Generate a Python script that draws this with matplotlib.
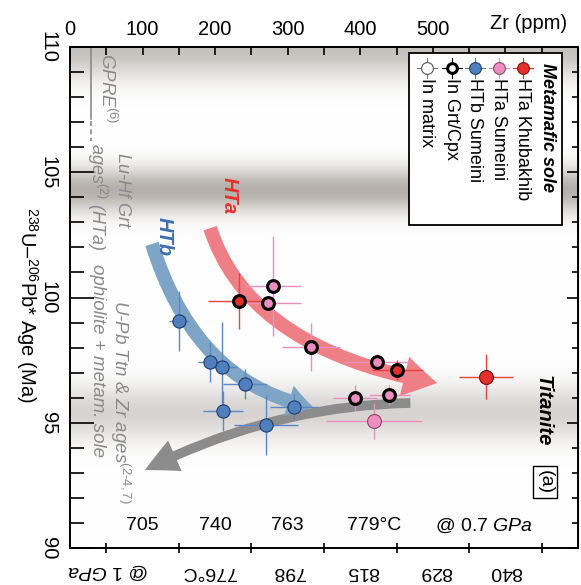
import numpy as np
import matplotlib.pyplot as plt
from matplotlib.patches import FancyArrowPatch, Rectangle
from matplotlib.path import Path

plt.rcParams['font.family'] = ['Liberation Sans', 'DejaVu Sans']
plt.rcParams['mathtext.fontset'] = 'custom'
plt.rcParams['mathtext.rm'] = 'Liberation Sans'
plt.rcParams['mathtext.it'] = 'Liberation Sans:italic'
plt.rcParams['mathtext.bf'] = 'Liberation Sans:bold'

# --- data (Zr ppm, age Ma, errors) ---
# HTa Khubakhib (red)
red_zr = [233, 451, 573]
red_age = [99.86, 97.11, 96.83]
red_zr_err = [43, 35, 37]
red_age_err = [1.1, 0.4, 0.9]
red_in_grt = [True, True, False]

# HTa Sumeini (pink)
pink_zr = [280, 273, 332, 423, 393, 440, 419]
pink_age = [100.46, 99.78, 98.02, 97.43, 95.99, 96.11, 95.07]
pink_zr_err = [39, 45, 40, 45, 30, 28, 66]
pink_age_err = [2.0, 0.3, 0.95, 0.3, 0.5, 0.4, 0.7]
pink_in_grt = [True, True, True, True, True, True, False]

# HTb Sumeini (blue)
blue_zr = [150, 193, 210, 241, 211, 270, 309]
blue_age = [99.06, 97.43, 97.23, 96.55, 95.47, 94.91, 95.63]
blue_zr_err = [14, 17, 20, 30, 28, 44, 33]
blue_age_err = [1.2, 0.8, 1.8, 0.6, 0.8, 1.2, 0.5]

# trends (start, control, end) in (Zr, age)
hta_trend = [(193, 102.77), (248, 97.90), (506, 96.59)]
htb_trend = [(113, 102.14), (173, 96.53), (335, 95.63)]
ttn_trend = [(469, 95.79), (279, 95.69), (103, 93.11)]

# gray age bands: centre age, width, strength
band_age = [110.0, 104.3, 95.4]
band_width = [1.2, 0.9, 1.1]
band_strength = [0.8, 1.0, 0.55]

zr_ticks = [0, 100, 200, 300, 400, 500]
temp_07 = ['705', '740', '763', '779°C']
temp_07_zr = [100, 200, 300, 419]
temp_1 = ['@ $\\mathit{1\\ GPa}$', '776°C', '798', '815', '829', '840']
temp_1_zr = [52, 191, 302, 403, 504, 601]

c_red = '#e3302a'
c_pink = '#ec8cbf'
c_blue = '#4f7fbd'

fig = plt.figure(figsize=(5.81, 5.85), dpi=100)
ax = fig.add_axes([0.1205, 0.0632, 0.8743, 0.8564])

# background bands
ages = np.linspace(90, 110, 600)
d = np.zeros_like(ages)
for a0, w, s in zip(band_age, band_width, band_strength):
    d = np.maximum(d, s * np.exp(-((ages - a0) / w) ** 2))
base = np.array([0.71, 0.69, 0.67])
img = 1 - d[:, None] * (1 - base[None, :])
img = np.repeat(img[:, None, :], 2, axis=1)
ax.imshow(img, extent=[0, 700, 90, 110], origin='lower', aspect='auto', zorder=0)

ax.set_xlim(0, 700)
ax.set_ylim(90, 110)

# trend arrows
def trend_arrow(pts, color, style, z):
    p = Path(pts, [Path.MOVETO, Path.CURVE3, Path.CURVE3])
    a = FancyArrowPatch(path=p, arrowstyle=style, mutation_scale=1,
                        color=color, lw=0, zorder=z)
    ax.add_patch(a)

trend_arrow(ttn_trend, '#8c8c8c', 'simple,head_length=24,head_width=24,tail_width=7', 2)
trend_arrow(htb_trend, '#7fa5c6', 'simple,head_length=18,head_width=23,tail_width=10', 2.1)
trend_arrow(hta_trend, '#ef7f86', 'simple,head_length=24,head_width=29,tail_width=10', 2.2)

# error bars and points
ax.errorbar(blue_zr, blue_age, xerr=blue_zr_err, yerr=blue_age_err, fmt='none',
            ecolor='#5b87c6', elinewidth=1, zorder=3)
ax.errorbar(pink_zr, pink_age, xerr=pink_zr_err, yerr=pink_age_err, fmt='none',
            ecolor='#e98fbd', elinewidth=1, zorder=3)
ax.errorbar(red_zr, red_age, xerr=red_zr_err, yerr=red_age_err, fmt='none',
            ecolor='#e5453a', elinewidth=1, zorder=3)

ax.plot(blue_zr, blue_age, 'o', ms=9.5, mfc=c_blue, mec='#1f3c6e', mew=0.8, zorder=4)
for x, y, g in zip(pink_zr, pink_age, pink_in_grt):
    if g:
        ax.plot(x, y, 'o', ms=8.5, mfc=c_pink, mec='black', mew=2.2, zorder=4)
    else:
        ax.plot(x, y, 'o', ms=10, mfc=c_pink, mec='#8a4a6a', mew=0.8, zorder=4)
for x, y, g in zip(red_zr, red_age, red_in_grt):
    if g:
        ax.plot(x, y, 'o', ms=8.5, mfc=c_red, mec='black', mew=2.2, zorder=4)
    else:
        ax.plot(x, y, 'o', ms=10, mfc=c_red, mec='#6a1010', mew=0.8, zorder=4)

# axes / ticks
for s in ax.spines.values():
    s.set_linewidth(1.4)
ax.set_xticks(np.arange(50, 700, 100))
ax.set_xticklabels([])
ax.tick_params(axis='x', direction='inout', length=7, width=1.2)
ax.set_yticks([110, 105, 100, 95, 90])
ax.set_yticks(np.arange(90, 111, 1), minor=True)
ax.tick_params(axis='y', which='major', direction='in', length=17, width=1.2,
               labelsize=14.5, labelrotation=-90, pad=9)
ax.tick_params(axis='y', which='minor', direction='in', length=10, width=1.2)
for lab in ax.get_yticklabels():
    lab.set_va('center')

top = ax.secondary_xaxis('top')
top.set_xticks(range(0, 701, 100))
top.set_xticklabels([str(v) for v in zr_ticks] + ['', ''])
top.set_xticks(np.arange(50, 700, 100), minor=True)
top.tick_params(which='both', direction='in', length=6, width=1.2, labelsize=14.5, pad=6)
top.spines['top'].set_linewidth(1.4)
ax.text(632, 1.046, 'Zr (ppm)', transform=ax.get_xaxis_transform(), fontsize=14.5,
        ha='center', va='center')

right = ax.secondary_yaxis('right')
right.set_yticks([110, 105, 100, 95, 90])
right.set_yticklabels([])
right.set_yticks(np.arange(90, 111, 1), minor=True)
right.tick_params(which='major', direction='in', length=8, width=1.2)
right.tick_params(which='minor', direction='in', length=4.5, width=1.2)

ax.set_ylabel('$^{238}$U\u2013$^{206}$Pb* Age (Ma)', fontsize=14.5, rotation=-90, va='center')
ax.yaxis.set_label_coords(-0.085, 0.485)

# temperature rows
xt = ax.get_xaxis_transform()
for t, x in zip(temp_07, temp_07_zr):
    ax.text(x, 0.044, t, transform=xt, fontsize=14, ha='center', va='center', zorder=5)
ax.text(570, 0.044, '@ $\\mathit{0.7\\ GPa}$', transform=xt, fontsize=14,
        ha='center', va='center', zorder=5)
for t, x in zip(temp_1, temp_1_zr):
    ax.text(x, -0.046, t, transform=xt, fontsize=14, ha='center', va='center',
            rotation=180)

# gray annotations
def px(x, y):
    return (x - 70) / 508, (548 - y) / 501

gc = '#8a8a8a'
T = ax.transAxes
ax.text(*px(107, 53), 'GPRE$^{(6)}$', transform=T, color=gc, style='italic',
        fontsize=13.5, rotation=-90, ha='center', va='top')
ax.plot(*zip(px(91, 47), px(91, 119)), transform=T, color=gc, lw=1.2)
ax.plot(*zip(px(91, 121), px(91, 141)), transform=T, color=gc, lw=1.2, ls=(0, (3, 2)))
ax.text(*px(122, 153), 'Lu-Hf Grt', transform=T, color=gc, style='italic',
        fontsize=13, rotation=-90, ha='center', va='top')
ax.text(*px(97, 143), 'ages$^{(2)}$ (HTa)', transform=T, color=gc, style='italic',
        fontsize=13, rotation=-90, ha='center', va='top')
ax.text(*px(120, 300), 'U-Pb Ttn & Zr ages$^{(2\\text{-}4,7)}$', transform=T, color=gc,
        style='italic', fontsize=13.5, rotation=-90, ha='center', va='top')
ax.text(*px(97, 264), 'ophiolite + metam. sole', transform=T, color=gc, style='italic',
        fontsize=13.5, rotation=-90, ha='center', va='top')

ax.text(*px(229, 196), 'HTa', transform=T, color='#e8322e', style='italic',
        weight='bold', fontsize=14.5, rotation=-90, ha='center', va='center')
ax.text(*px(164, 236), 'HTb', transform=T, color='#3f6fae', style='italic',
        weight='bold', fontsize=14.5, rotation=-90, ha='center', va='center')
ax.text(*px(543, 411), 'Titanite', transform=T, color='black', style='italic',
        weight='bold', fontsize=14.5, rotation=-90, ha='center', va='center')
ax.text(*px(545, 482), '(a)', transform=T, fontsize=14, rotation=-90, ha='center',
        va='center', bbox=dict(boxstyle='square,pad=0.2', fc='white', ec='black', lw=1))

# legend (rotated)
x0, y0 = px(409, 225)
x1, y1 = px(562, 53)
ax.add_patch(Rectangle((x0, y0), x1 - x0, y1 - y0, transform=T, fc='white',
                       ec='black', lw=1.3, zorder=5))
ax.text(*px(548, 63), 'Metamafic sole', transform=T, style='italic', weight='bold',
        fontsize=13, rotation=-90, ha='center', va='top', zorder=6)
leg = [(523, 'HTa Khubakhib', c_red, '#7a1a10', 0.8, c_red),
       (499, 'HTa Sumeini', c_pink, '#8a4a6a', 0.8, c_pink),
       (475, 'HTb Sumeini', c_blue, '#1f3c6e', 0.8, c_blue),
       (452, 'In Grt/Cpx', 'white', 'black', 2.2, 'black'),
       (427, 'In matrix', 'white', '#555555', 0.8, '#777777')]
for lx, lab, fc, ec, mw, lc in leg:
    cx, cy = px(lx, 68)
    ax.plot([cx - 0.02, cx + 0.02], [cy, cy], transform=T, color=lc, lw=0.8, zorder=6)
    ax.plot([cx, cx], [cy - 0.02, cy + 0.02], transform=T, color=lc, lw=0.8, zorder=6)
    ax.plot(cx, cy, 'o', ms=8.5 if mw < 1 else 7, mfc=fc, mec=ec, mew=mw,
            transform=T, zorder=7)
    ax.text(*px(lx, 78), lab, transform=T, fontsize=13, rotation=-90,
            ha='center', va='top', zorder=6)

fig.savefig('out.png', dpi=100)
